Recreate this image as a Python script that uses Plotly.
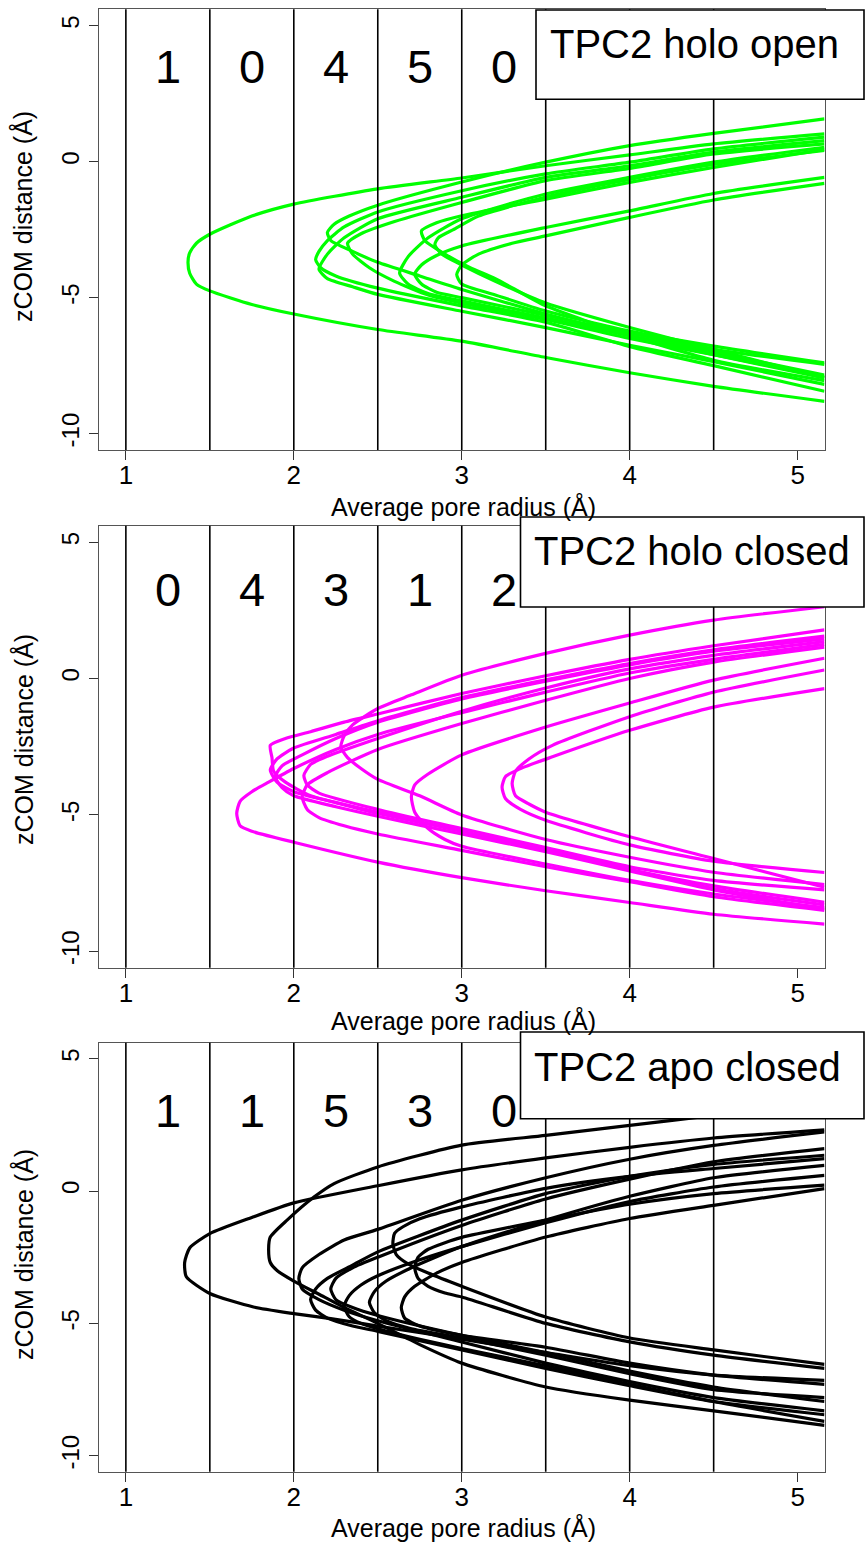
import plotly.graph_objects as go

# ---------------- data ----------------
bin_centers = [1.25, 1.75, 2.25, 2.75, 3.25]
bin_edges = [1.0, 1.5, 2.0, 2.5, 3.0, 3.5, 4.0, 4.5]
x_ticks = [1, 2, 3, 4, 5]
y_ticks = [-10, -5, 0, 5]
y_ticktext = ["-10", "-5", "0", "5"]

open_counts = ["1", "0", "4", "5", "0"]
closed_counts = ["0", "4", "3", "1", "2"]
apo_counts = ["1", "1", "5", "3", "0"]

# TPC2 holo open: radius (x) and zCOM (y) for each profile
open_r = [
    [5.16, 4.5, 4.0, 3.5, 3.0, 2.5, 2.0, 1.75, 1.5, 1.42, 1.38, 1.37, 1.38, 1.42, 1.5, 1.75, 2.0, 2.5, 3.0, 3.5, 4.0, 4.5, 5.16],
    [5.16, 4.5, 4.0, 3.5, 3.0, 2.5, 2.33, 2.24, 2.2, 2.22, 2.35, 2.5, 2.75, 3.0, 3.5, 4.0, 4.5, 5.16],
    [5.16, 4.5, 4.0, 3.5, 3.0, 2.5, 2.3, 2.2, 2.15, 2.13, 2.16, 2.25, 2.5, 3.0, 3.5, 4.0, 4.5, 5.16],
    [5.16, 4.5, 4.0, 3.5, 3.0, 2.5, 2.3, 2.2, 2.15, 2.2, 2.35, 2.5, 3.0, 3.5, 4.0, 4.5, 5.16],
    [5.16, 4.5, 4.0, 3.5, 3.0, 2.6, 2.4, 2.32, 2.35, 2.45, 2.6, 2.8, 3.0, 3.5, 4.0, 4.5, 5.16],
    [5.16, 4.5, 4.0, 3.5, 3.0, 2.8, 2.68, 2.63, 2.68, 2.8, 3.0, 3.5, 4.0, 4.5, 5.16],
    [5.16, 4.5, 4.0, 3.5, 3.0, 2.85, 2.76, 2.78, 2.9, 3.05, 3.2, 3.5, 4.0, 4.5, 5.16],
    [5.16, 4.5, 4.0, 3.5, 3.1, 2.95, 2.86, 2.84, 2.88, 3.0, 3.2, 3.5, 4.0, 4.5, 5.16],
    [5.16, 4.5, 4.0, 3.5, 3.0, 2.85, 2.76, 2.72, 2.76, 2.85, 3.0, 3.5, 4.0, 4.5, 5.16],
    [5.16, 4.5, 4.0, 3.5, 3.3, 3.1, 3.0, 2.97, 3.0, 3.2, 3.5, 4.0, 4.5, 5.16],
]
open_z = [
    [1.02, 0.65, 0.25, -0.15, -0.6, -1.0, -1.56, -2.0, -2.67, -3.0, -3.35, -3.7, -4.1, -4.5, -4.75, -5.25, -5.6, -6.17, -6.6, -7.2, -7.76, -8.26, -8.81],
    [1.57, 1.04, 0.59, -0.02, -0.75, -1.6, -2.0, -2.3, -2.6, -2.9, -3.3, -3.7, -4.2, -4.7, -5.6, -6.4, -7.1, -7.95],
    [0.90, 0.47, -0.02, -0.45, -1.07, -1.85, -2.4, -2.9, -3.3, -3.6, -3.9, -4.2, -4.65, -5.3, -5.9, -6.8, -7.5, -8.44],
    [0.77, 0.35, -0.15, -0.58, -1.31, -2.1, -2.8, -3.4, -3.95, -4.3, -4.6, -4.88, -5.5, -6.1, -6.75, -7.35, -8.19],
    [0.65, 0.28, -0.25, -0.70, -1.5, -2.2, -2.65, -3.0, -3.4, -3.9, -4.4, -4.9, -5.2, -5.8, -6.5, -7.1, -7.9],
    [0.53, -0.02, -0.58, -1.19, -2.1, -2.8, -3.5, -4.1, -4.5, -4.85, -5.12, -5.75, -6.4, -7.0, -7.85],
    [0.45, -0.21, -0.76, -1.38, -1.99, -2.25, -2.55, -2.9, -3.4, -3.9, -4.3, -5.3, -6.4, -7.3, -8.05],
    [0.41, -0.1, -0.65, -1.3, -2.0, -2.5, -2.8, -3.05, -3.4, -3.8, -4.4, -5.2, -6.1, -6.9, -7.95],
    [-0.58, -1.17, -1.81, -2.42, -3.1, -3.45, -3.8, -4.14, -4.5, -4.8, -5.0, -5.65, -6.3, -6.9, -7.45],
    [-0.80, -1.41, -2.05, -2.73, -3.0, -3.4, -3.8, -4.15, -4.5, -4.9, -5.49, -6.23, -6.78, -7.40],
]

# TPC2 holo closed
closed_r = [
    [5.16, 4.5, 4.0, 3.5, 3.0, 2.7, 2.5, 2.35, 2.3, 2.28, 2.32, 2.4, 2.5, 2.75, 3.0, 3.5, 4.0, 4.5, 5.16],
    [5.16, 4.5, 4.0, 3.5, 3.0, 2.5, 2.25, 2.0, 1.85, 1.75, 1.68, 1.66, 1.68, 1.75, 2.0, 2.5, 3.0, 3.5, 4.0, 4.5, 5.16],
    [5.16, 4.5, 4.0, 3.5, 3.0, 2.5, 2.3, 2.1, 1.95, 1.86, 1.87, 1.88, 1.95, 2.1, 2.5, 3.0, 3.5, 4.0, 4.5, 5.16],
    [5.16, 4.5, 4.0, 3.5, 3.0, 2.5, 2.25, 2.0, 1.9, 1.86, 1.9, 2.0, 2.25, 2.5, 3.0, 3.5, 4.0, 4.5, 5.16],
    [5.16, 4.5, 4.0, 3.5, 3.0, 2.5, 2.25, 2.05, 1.93, 1.89, 1.93, 2.0, 2.25, 2.5, 3.0, 3.5, 4.0, 4.5, 5.16],
    [5.16, 4.5, 4.0, 3.5, 3.0, 2.5, 2.2, 2.1, 2.06, 2.08, 2.15, 2.5, 3.0, 3.5, 4.0, 4.5, 5.16],
    [5.16, 4.5, 4.0, 3.5, 3.0, 2.5, 2.2, 2.08, 2.05, 2.08, 2.15, 2.3, 2.5, 3.0, 3.5, 4.0, 4.5, 5.16],
    [5.16, 4.5, 4.0, 3.5, 3.0, 2.8, 2.72, 2.70, 2.72, 2.8, 2.9, 3.0, 3.5, 4.0, 4.5, 5.16],
    [5.16, 4.5, 4.0, 3.54, 3.35, 3.26, 3.24, 3.26, 3.35, 3.5, 4.0, 4.5, 5.16],
    [5.16, 4.5, 4.0, 3.54, 3.4, 3.32, 3.3, 3.32, 3.4, 3.5, 4.0, 4.5, 5.16],
]
closed_z = [
    [2.63, 2.14, 1.59, 0.92, 0.12, -0.6, -1.1, -1.7, -2.1, -2.51, -2.9, -3.3, -3.7, -4.3, -5.0, -5.9, -6.55, -7.1, -7.55],
    [1.25, 0.7, 0.2, -0.5, -1.25, -2.05, -2.6, -3.3, -3.8, -4.15, -4.5, -4.95, -5.4, -5.6, -6.0, -6.73, -7.3, -7.78, -8.21, -8.64, -9.0],
    [1.78, 1.2, 0.7, 0.1, -0.55, -1.3, -1.6, -1.95, -2.2, -2.45, -2.9, -3.4, -3.8, -4.3, -4.9, -5.6, -6.3, -7.0, -7.6, -8.2],
    [1.55, 1.05, 0.55, -0.05, -0.7, -1.55, -2.05, -2.55, -2.95, -3.35, -3.8, -4.15, -4.55, -4.95, -5.6, -6.3, -7.0, -7.7, -8.3],
    [1.45, 1.0, 0.5, -0.1, -0.75, -1.6, -2.2, -2.8, -3.2, -3.6, -4.0, -4.3, -4.7, -5.05, -5.7, -6.35, -7.05, -7.75, -8.45],
    [1.35, 0.85, 0.35, -0.35, -1.2, -2.2, -2.85, -3.15, -3.55, -3.9, -4.2, -4.8, -5.5, -6.2, -6.9, -7.4, -7.75],
    [1.15, 0.6, 0.0, -0.8, -1.65, -2.6, -3.45, -3.9, -4.34, -4.8, -5.1, -5.4, -5.7, -6.3, -6.9, -7.45, -8.0, -8.5],
    [0.74, -0.06, -0.9, -1.78, -2.8, -3.5, -3.9, -4.34, -4.9, -5.5, -5.9, -6.15, -6.8, -7.4, -7.9, -8.4],
    [-0.37, -1.05, -1.9, -2.87, -3.3, -3.6, -3.98, -4.4, -4.8, -5.2, -6.1, -6.7, -7.11],
    [0.31, -0.5, -1.4, -2.45, -2.95, -3.4, -3.85, -4.3, -4.6, -4.9, -5.8, -6.6, -7.65],
]

# TPC2 apo closed
apo_r = [
    [5.16, 4.5, 4.0, 3.5, 3.0, 2.5, 2.24, 2.12, 1.96, 1.86, 1.85, 1.86, 1.9, 2.0, 2.15, 2.3, 2.5, 2.75, 3.0, 3.5, 4.0, 4.5, 5.16],
    [5.16, 4.5, 4.0, 3.5, 3.0, 2.5, 2.0, 1.75, 1.5, 1.38, 1.35, 1.36, 1.5, 1.76, 2.0, 2.22, 2.5, 3.0, 3.5, 4.0, 4.5, 5.16],
    [5.16, 4.5, 4.0, 3.5, 3.0, 2.5, 2.3, 2.15, 2.05, 2.03, 2.05, 2.15, 2.3, 2.5, 3.0, 3.5, 4.0, 4.5, 5.16],
    [5.16, 4.5, 4.0, 3.5, 3.0, 2.5, 2.35, 2.2, 2.13, 2.1, 2.13, 2.2, 2.35, 2.5, 3.0, 3.5, 4.0, 4.5, 5.16],
    [5.16, 4.5, 4.0, 3.5, 3.0, 2.5, 2.35, 2.25, 2.22, 2.25, 2.35, 2.5, 3.0, 3.5, 4.0, 4.5, 5.16],
    [5.16, 4.5, 4.0, 3.5, 3.0, 2.75, 2.5, 2.4, 2.33, 2.3, 2.33, 2.4, 2.5, 2.75, 3.0, 3.5, 4.0, 4.5, 5.16],
    [5.16, 4.5, 4.0, 3.5, 3.0, 2.7, 2.55, 2.48, 2.45, 2.48, 2.55, 2.7, 3.0, 3.5, 4.0, 4.5, 5.16],
    [5.16, 4.5, 4.0, 3.5, 3.0, 2.75, 2.65, 2.6, 2.59, 2.61, 2.68, 2.8, 3.0, 3.5, 4.0, 4.5, 5.16],
    [5.16, 4.5, 4.0, 3.5, 3.0, 2.85, 2.72, 2.66, 2.64, 2.66, 2.75, 3.0, 3.5, 4.0, 4.5, 5.16],
    [5.16, 4.5, 4.0, 3.5, 3.0, 2.9, 2.8, 2.74, 2.72, 2.74, 2.8, 2.9, 3.0, 3.5, 4.0, 4.5, 5.16],
]
apo_z = [
    [3.3, 2.85, 2.48, 2.1, 1.73, 0.91, 0.28, -0.23, -1.1, -1.74, -2.2, -2.7, -3.0, -3.4, -3.9, -4.4, -5.0, -5.8, -6.5, -7.4, -7.9, -8.3, -8.85],
    [2.31, 2.0, 1.65, 1.25, 0.8, 0.2, -0.45, -1.0, -1.61, -2.15, -2.7, -3.24, -3.87, -4.38, -4.63, -4.82, -5.1, -5.6, -6.1, -6.6, -6.95, -7.15],
    [2.23, 1.72, 1.2, 0.5, -0.35, -1.45, -1.85, -2.4, -2.9, -3.3, -3.7, -4.1, -4.5, -4.9, -5.7, -6.5, -7.2, -7.8, -8.3],
    [1.35, 1.0, 0.55, -0.1, -1.1, -2.3, -2.8, -3.3, -3.7, -4.1, -4.5, -4.8, -5.1, -5.3, -6.0, -6.7, -7.35, -7.95, -8.45],
    [1.6, 1.1, 0.45, -0.3, -1.3, -2.5, -2.9, -3.3, -3.7, -4.1, -4.4, -4.7, -5.45, -6.1, -6.8, -7.4, -7.95],
    [0.59, 0.15, -0.4, -1.2, -2.1, -2.6, -3.2, -3.55, -3.95, -4.35, -4.75, -5.0, -5.2, -5.6, -5.95, -6.6, -7.3, -7.95, -8.7],
    [0.97, 0.5, -0.2, -1.1, -2.1, -2.9, -3.4, -3.8, -4.2, -4.6, -4.9, -5.2, -5.55, -6.2, -6.9, -7.5, -7.8],
    [1.22, 0.85, 0.55, 0.1, -0.6, -1.05, -1.35, -1.6, -1.99, -2.4, -2.75, -3.1, -3.6, -4.76, -5.55, -6.0, -6.55],
    [0.09, -0.54, -1.04, -1.74, -2.7, -3.1, -3.6, -4.0, -4.4, -4.8, -5.1, -5.45, -5.9, -6.5, -6.95, -7.3],
    [0.22, -0.1, -0.5, -1.1, -1.75, -1.95, -2.2, -2.5, -2.9, -3.3, -3.6, -3.85, -4.0, -5.0, -5.7, -6.2, -6.7],
]

panel_names = ["TPC2 holo open", "TPC2 holo closed", "TPC2 apo closed"]
panel_colors = ["#00FF00", "#FF00FF", "#000000"]
panel_r = [open_r, closed_r, apo_r]
panel_z = [open_z, closed_z, apo_z]
panel_counts = [open_counts, closed_counts, apo_counts]
count_y = [3.5, 3.25, 3.05]

# ---------------- layout geometry (pixels of a 867x1558 page) ----------------
W, H = 867, 1558
FONT = "Liberation Sans, Arial, Helvetica, sans-serif"
x_dom = [99 / W, 824.5 / W]
box_px = [(9.3, 450.0), (525.7, 967.7), (1042.7, 1471.7)]
legend_px = [(536, 864, 10, 99.3), (520.5, 864, 517, 607), (520.5, 864, 1032, 1118.7)]
legend_text_px = [(548, 44), (531.6, 551.5), (531.6, 1066.7)]
xtitle_py = [506, 1020, 1527]
ytitle_py = [217, 740, 1255]


def py(p):
    return 1 - p / H


fig = go.Figure()
layout = dict(
    width=W, height=H, autosize=False,
    margin=dict(l=0, r=0, t=0, b=0),
    paper_bgcolor="white", plot_bgcolor="white",
    showlegend=False,
    font=dict(family=FONT, color="black"),
)
shapes = []
annotations = []

for i in range(3):
    sfx = "" if i == 0 else str(i + 1)
    xa, ya = "x" + sfx, "y" + sfx
    for r, z in zip(panel_r[i], panel_z[i]):
        fig.add_trace(go.Scatter(
            x=r, y=z, mode="lines", xaxis=xa, yaxis=ya,
            line=dict(color=panel_colors[i], width=3.2, shape="spline", smoothing=0.6),
            hoverinfo="skip",
        ))
    top, bot = box_px[i]
    layout["xaxis" + sfx] = dict(
        domain=x_dom, range=[0.84, 5.16], anchor=ya,
        tickmode="array", tickvals=x_ticks, ticks="outside", ticklen=9,
        tickcolor="#333", tickwidth=1, showline=True, mirror=True,
        linecolor="#555", linewidth=1.2, showgrid=False, zeroline=False,
        tickfont=dict(size=26, family=FONT, color="black"),
    )
    layout["yaxis" + sfx] = dict(
        domain=[py(bot), py(top)], range=[-10.6, 5.6], anchor=xa,
        tickmode="array", tickvals=y_ticks, ticktext=y_ticktext,
        ticks="outside", ticklen=9, tickcolor="#333", tickwidth=1,
        tickangle=-90, showline=True, mirror=True, linecolor="#555",
        linewidth=1.2, showgrid=False, zeroline=False,
        tickfont=dict(size=24, family=FONT, color="black"),
    )
    for v in bin_edges:
        shapes.append(dict(type="line", xref=xa, yref=ya + " domain",
                           x0=v, x1=v, y0=0, y1=1, layer="above",
                           line=dict(color="black", width=1.6)))
    for xc, txt in zip(bin_centers, panel_counts[i]):
        annotations.append(dict(x=xc, y=count_y[i], xref=xa, yref=ya, text=txt,
                                showarrow=False, font=dict(size=47, family=FONT, color="black"),
                                xanchor="center", yanchor="middle"))
    lx0, lx1, ly0, ly1 = legend_px[i]
    shapes.append(dict(type="rect", xref="paper", yref="paper",
                       x0=lx0 / W, x1=lx1 / W, y0=py(ly1), y1=py(ly0), layer="above",
                       fillcolor="white", line=dict(color="black", width=1.6)))
    tx, ty = legend_text_px[i]
    annotations.append(dict(x=tx / W, y=py(ty), xref="paper", yref="paper",
                            text=panel_names[i], showarrow=False,
                            xanchor="left", yanchor="middle",
                            font=dict(size=40, family=FONT, color="black")))
    annotations.append(dict(x=463 / W, y=py(xtitle_py[i]), xref="paper", yref="paper",
                            text="Average pore radius (Å)", showarrow=False,
                            xanchor="center", yanchor="middle",
                            font=dict(size=25, family=FONT, color="black")))
    annotations.append(dict(x=23 / W, y=py(ytitle_py[i]), xref="paper", yref="paper",
                            text="zCOM distance (Å)", showarrow=False, textangle=-90,
                            xanchor="center", yanchor="middle",
                            font=dict(size=25, family=FONT, color="black")))

layout["shapes"] = shapes
layout["annotations"] = annotations
fig.update_layout(**layout)
try:
    fig.update_xaxes(ticklabelstandoff=-7)
except Exception:
    pass

fig.write_html(
    "out.html",
    config={"displayModeBar": False},
    post_script="document.body.style.margin='0';document.documentElement.style.overflow='hidden';",
)
